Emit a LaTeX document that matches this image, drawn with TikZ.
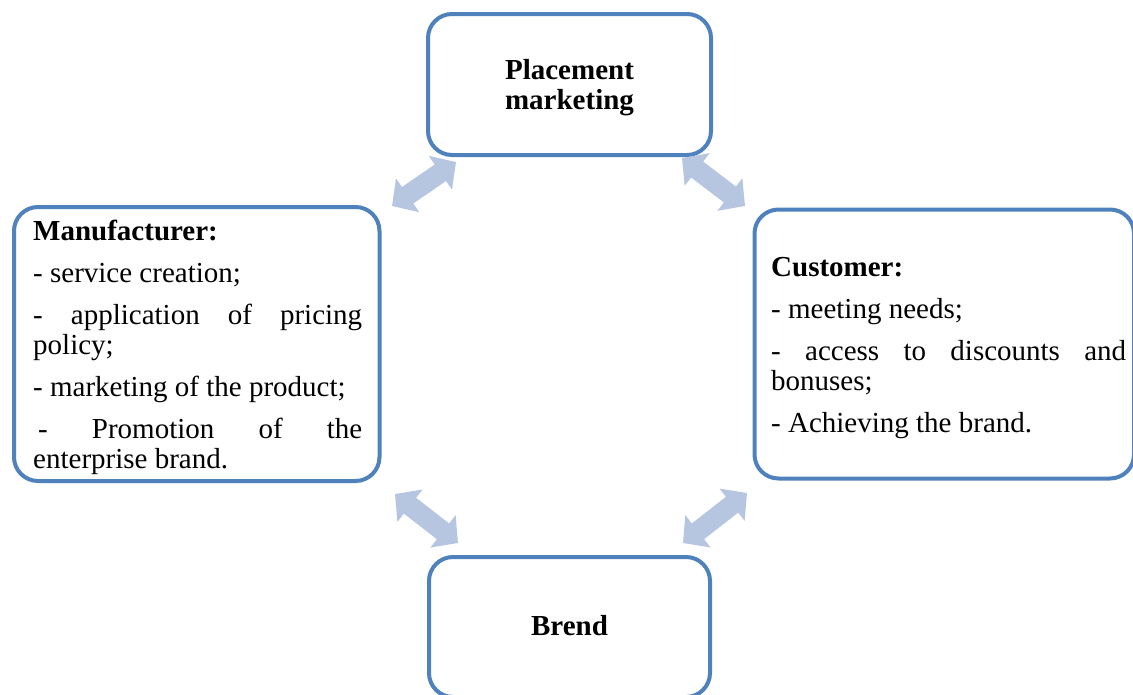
\documentclass[tikz,border=0pt]{standalone}
\usepackage{fontspec}
\setmainfont{Liberation Serif}
\usetikzlibrary{arrows.meta}
\definecolor{boxblue}{RGB}{79,129,189}
\definecolor{arrowblue}{RGB}{182,198,224}
\newcommand\txtsetup{\setlength{\parskip}{12pt}\setlength{\parindent}{0pt}\hyphenpenalty=10000 \exhyphenpenalty=10000 }
\begin{document}
\begin{tikzpicture}[x=1pt,y=-1pt,
  box/.style={draw=boxblue, line width=4pt, rounded corners=24pt, inner sep=0pt},
  title/.style={font=\bfseries\fontsize{29}{30}\selectfont, align=center, inner sep=0pt},
  txt/.style={text width=#1, align=justify, inner sep=0pt, anchor=north west,
    font=\fontsize{29}{30}\selectfont},
  dblarrow/.style={draw=arrowblue, line width=20pt,
    {Triangle[width=40pt,length=19pt]}-{Triangle[width=40pt,length=19pt]}}]
\useasboundingbox (0,0) rectangle (1133,694);

% boxes
\node[box, minimum width=283pt, minimum height=141pt] (place) at (569.5,84.5) {};
\node[title] (placet) at (569.5,87.5) {Placement\\marketing};
\node[box, minimum width=365.5pt, minimum height=274pt] (manu) at (196.75,344) {};
\node[box, minimum width=379.5pt, minimum height=269pt] (cust) at (944.25,344) {};
\node[box, minimum width=281pt, minimum height=140pt] (brend) at (569.5,627) {};
\node[title] (brendt) at (569.5,626) {Brend};

% texts
\node[txt=329pt] (mtext) at (33,220) {\txtsetup\textbf{Manufacturer:}\par
- service creation;\par
- application of pricing\linebreak policy;\par
- marketing of the product;\par
\hspace*{5pt}- Promotion of the\linebreak enterprise brand.};
\node[txt=355pt] (ctext) at (771,257) {\txtsetup\textbf{Customer:}\par
- meeting needs;\par
- access to discounts and\linebreak bonuses;\par
- Achieving the brand.};

% arrows
\coordinate (a1s) at (392,206); \coordinate (a1e) at (456,162);
\coordinate (a2s) at (682,158); \coordinate (a2e) at (745,206);
\coordinate (a3s) at (395,494); \coordinate (a3e) at (458,543);
\coordinate (a4s) at (683,543); \coordinate (a4e) at (747,493);
\draw[dblarrow] (a1s) -- (a1e);
\draw[dblarrow] (a2s) -- (a2e);
\draw[dblarrow] (a3s) -- (a3e);
\draw[dblarrow] (a4s) -- (a4e);
\end{tikzpicture}
\end{document}
